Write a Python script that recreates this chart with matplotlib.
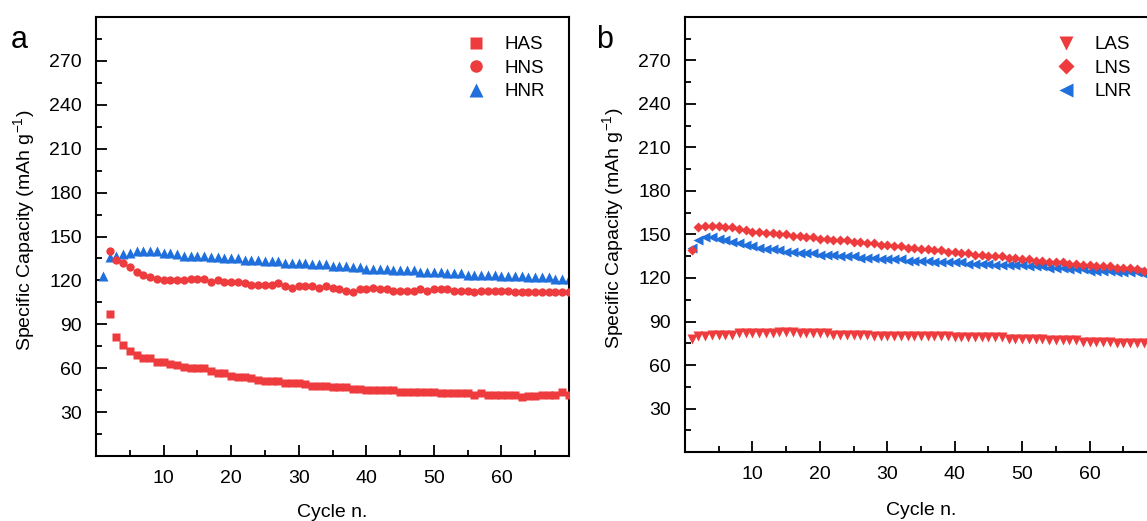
import numpy as np
from matplotlib import pyplot as plt
from matplotlib.ticker import MultipleLocator

plt.rcParams['font.family'] = ['Liberation Sans', 'DejaVu Sans']
plt.rcParams['mathtext.fontset'] = 'custom'
plt.rcParams['mathtext.rm'] = 'Liberation Sans'

red = '#ee3b3d'
blue = '#1f6fdc'

# panel a: cycles and capacities (mAh/g)
cycles_hnr = np.arange(1, 71)
hnr = [123, 136, 137, 138, 139, 140, 140, 140, 140, 139,
       139, 138, 137, 137, 137, 137, 136, 136, 135, 135,
       135, 134, 134, 134, 133, 133, 133, 132, 132, 132,
       132, 131, 131, 131, 130, 130, 130, 129, 129, 128,
       128, 128, 128, 127, 127, 127, 127, 126, 126, 126,
       126, 125, 125, 125, 124, 124, 124, 124, 124, 123,
       123, 123, 123, 122, 122, 122, 122, 121, 121, 121]
cycles_h = np.arange(2, 71)
hns = [140, 134, 132, 129, 126, 124, 122, 121, 120,
       120, 120, 120, 121, 121, 121, 119, 120, 119, 119,
       119, 118, 117, 117, 117, 117, 118, 116, 115, 116,
       116, 116, 115, 116, 115, 114, 113, 112, 114, 114,
       115, 114, 114, 113, 113, 113, 113, 114, 113, 114,
       114, 114, 113, 113, 113, 112, 113, 113, 113, 113,
       113, 112, 112, 112, 112, 112, 112, 112, 112, 112]
has = [97, 81, 76, 72, 69, 67, 67, 64, 64,
       63, 62, 61, 60, 60, 60, 58, 57, 57, 55,
       54, 54, 53, 52, 51, 51, 51, 50, 50, 50,
       49, 48, 48, 48, 47, 47, 47, 46, 46, 45,
       45, 45, 45, 45, 44, 44, 44, 44, 44, 44,
       43, 43, 43, 43, 43, 42, 43, 42, 42, 42,
       42, 42, 40, 41, 41, 42, 42, 42, 44, 42]

# panel b
cycles_l = np.arange(1, 71)
las = [78, 80, 80, 81, 81, 81, 81, 82, 82, 82,
       82, 82, 82, 83, 83, 83, 82, 82, 82, 82,
       82, 81, 81, 81, 81, 81, 81, 80, 80, 80,
       80, 80, 80, 80, 80, 80, 80, 80, 80, 79,
       79, 79, 79, 79, 79, 79, 79, 78, 78, 78,
       78, 78, 78, 77, 77, 77, 77, 77, 76, 76,
       76, 76, 76, 75, 75, 75, 75, 75, 75, 75]
lns = [139, 155, 156, 156, 156, 155, 155, 154, 153, 152,
       152, 151, 151, 150, 150, 149, 149, 148, 148, 147,
       147, 146, 146, 146, 145, 145, 144, 144, 143, 143,
       142, 142, 141, 141, 140, 140, 139, 139, 138, 138,
       137, 137, 136, 136, 135, 135, 135, 134, 134, 133,
       133, 132, 132, 131, 131, 131, 130, 130, 129, 129,
       128, 128, 128, 127, 127, 127, 126, 125, 125, 124]
lnr = [141, 146, 148, 148, 147, 146, 145, 144, 143, 142,
       141, 140, 140, 139, 138, 138, 137, 137, 137, 136,
       136, 136, 135, 135, 135, 134, 134, 134, 133, 133,
       133, 133, 132, 132, 132, 132, 131, 131, 131, 131,
       131, 130, 130, 130, 130, 129, 129, 129, 129, 129,
       128, 128, 128, 127, 127, 127, 126, 126, 126, 125,
       125, 125, 125, 124, 124, 124, 124, 123, 123, 123]

yticks = [30, 60, 90, 120, 150, 180, 210, 240, 270]
xticks = [10, 20, 30, 40, 50, 60]

fig = plt.figure(figsize=(11.47, 5.21), dpi=100)
W, H = 1147, 521
axa = fig.add_axes([96 / W, (H - 456) / H, 473 / W, 439 / H])
axb = fig.add_axes([685 / W, (H - 452) / H, 472 / W, 435 / H])


def style(ax, xl_y):
    ax.set_xlim(0, 70)
    ax.set_ylim(0, 300)
    ax.set_xticks(xticks)
    ax.set_yticks(yticks)
    ax.xaxis.set_minor_locator(MultipleLocator(5))
    ax.yaxis.set_minor_locator(MultipleLocator(15))
    ax.tick_params(which='major', direction='in', length=8, width=1.3, labelsize=14)
    ax.tick_params(which='minor', direction='in', length=4, width=1.3)
    ax.tick_params(axis='x', which='major', pad=10)
    ax.tick_params(axis='y', which='major', pad=10)
    for s in ax.spines.values():
        s.set_linewidth(1.5)
    ax.set_xlabel('Cycle n.', fontsize=14)
    ax.set_ylabel('Specific Capacity (mAh g$^{-1}$)', fontsize=14)
    ax.xaxis.set_label_coords(0.5, xl_y)
    ax.yaxis.set_label_coords(-0.123, 0.515)


ms = 5.5
axa.plot(cycles_h, has, 's', color=red, ms=ms, mec='none', label='HAS', zorder=3)
axa.plot(cycles_h, hns, 'o', color=red, ms=ms + 0.5, mec='none', label='HNS', zorder=3)
axa.plot(cycles_hnr, hnr, '^', color=blue, ms=ms + 1, mec='none', label='HNR', zorder=2)
style(axa, -0.11)

axb.plot(cycles_l, las, 'v', color=red, ms=ms + 1.5, mec='none', label='LAS', zorder=3)
axb.plot(cycles_l, lns, 'D', color=red, ms=ms, mec='none', label='LNS', zorder=3)
axb.plot(cycles_l, lnr, '<', color=blue, ms=ms + 1.5, mec='none', label='LNR', zorder=2)
style(axb, -0.116)

for ax, xm in [(axa, 476), (axb, 1066)]:
    ax.legend(loc='upper left', bbox_to_anchor=((xm - 9.4) / W, (H - 36) / H),
              bbox_transform=fig.transFigure, frameon=False, fontsize=13.5,
              borderpad=0, borderaxespad=0, handlelength=1.0, handletextpad=1.0,
              labelspacing=0.34, markerscale=1.5)

fig.text(11 / W, (H - 47.7) / H, 'a', fontsize=22, va='baseline', ha='left')
fig.text(596 / W, (H - 47.7) / H, 'b', fontsize=22, va='baseline', ha='left')

fig.savefig('out.png', dpi=100)
